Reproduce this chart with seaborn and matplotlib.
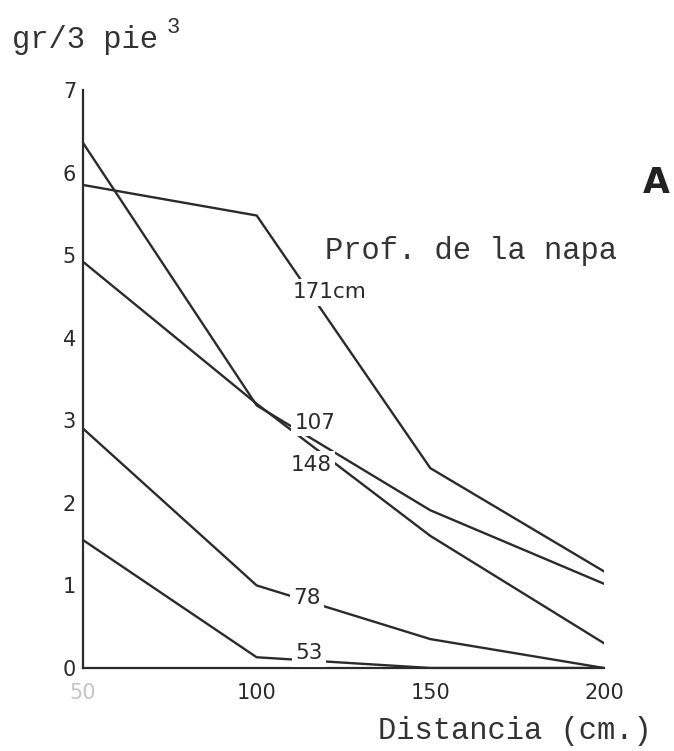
import matplotlib
matplotlib.use("Agg")
import matplotlib.pyplot as plt
import seaborn as sns
import pandas as pd

# Distance from the channel (cm) and measured amount (gr / 3 pie^3)
distancia = [50, 100, 150, 200]
prof_171 = [5.85, 5.48, 2.42, 1.17]
prof_107 = [6.36, 3.18, 1.91, 1.02]
prof_148 = [4.92, 3.20, 1.60, 0.30]
prof_78 = [2.90, 1.00, 0.35, 0.00]
prof_53 = [1.55, 0.13, 0.00, 0.00]

series_names = ["171cm", "107", "148", "78", "53"]
series_values = [prof_171, prof_107, prof_148, prof_78, prof_53]

# where each curve carries its water-table depth label (data coords)
label_x = [121.1, 116.8, 115.6, 114.5, 115.1]
label_y = [4.55, 2.97, 2.46, 0.85, 0.18]

x_ticks = [50, 100, 150, 200]
y_ticks = [0, 1, 2, 3, 4, 5, 6, 7]

sns.set_style("white")
plt.rcParams["font.family"] = ["DejaVu Sans"]

ink = "#2b2b2b"

rows = []
for name, vals in zip(series_names, series_values):
    for d, v in zip(distancia, vals):
        rows.append({"distancia": d, "valor": v, "prof": name})
df = pd.DataFrame(rows)

W, H = 674, 751
fig = plt.figure(figsize=(W / 100, H / 100), dpi=100)
ax = fig.add_axes([83 / W, 1 - 668 / H, (604 - 83) / W, (668 - 90) / H])

sns.lineplot(data=df, x="distancia", y="valor", hue="prof",
             palette=[ink] * len(series_names), linewidth=1.7,
             legend=False, ax=ax, sort=False)

ax.set_xlim(50, 200)
ax.set_ylim(0, 7)
ax.set_xticks(x_ticks)
ax.set_yticks(y_ticks)
ax.set_xticklabels([str(t) for t in x_ticks])
ax.set_yticklabels([str(t) for t in y_ticks])
ax.set_xlabel("")
ax.set_ylabel("")

for side in ("top", "right"):
    ax.spines[side].set_visible(False)
for side in ("left", "bottom"):
    ax.spines[side].set_color(ink)
    ax.spines[side].set_linewidth(1.6)

ax.tick_params(axis="y", direction="in", length=10, width=1.6, color=ink,
               pad=5, labelsize=15, labelcolor=ink)
ax.tick_params(axis="x", direction="in", length=8, width=1.6, color=ink,
               pad=11, labelsize=15, labelcolor=ink)
ax.get_xticklabels()[0].set_color("#c4c4c4")

# curve labels sit on white patches that break the lines
for name, lx, ly in zip(series_names, label_x, label_y):
    ax.text(lx, ly, name, ha="center", va="center", fontsize=15.5,
            color=ink, zorder=5,
            bbox=dict(facecolor="white", edgecolor="none", pad=2.5))

mono = ["Liberation Mono", "DejaVu Sans Mono"]
fig.text(12 / W, 1 - 48 / H, "gr/3 pie", family=mono, fontsize=22,
         color="#333333", ha="left", va="baseline")
fig.text(167 / W, 1 - 17 / H, "3", family=mono, fontsize=16,
         color="#333333", ha="left", va="top")
fig.text(325 / W, 1 - 259 / H, "Prof. de la napa", family=mono, fontsize=22,
         color="#333333", ha="left", va="baseline")
fig.text(378 / W, 1 - 739 / H, "Distancia (cm.)", family=mono, fontsize=22,
         color="#333333", ha="left", va="baseline")
fig.text(643 / W, 1 - 193 / H, "A", fontsize=25, fontweight="bold",
         color="#222222", ha="left", va="baseline")

fig.savefig("out.png", dpi=100, facecolor="white")
